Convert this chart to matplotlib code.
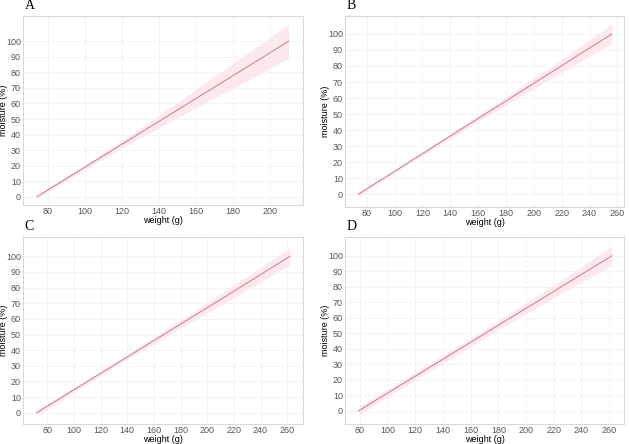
import matplotlib
matplotlib.use('Agg')
import matplotlib.pyplot as plt
import numpy as np

# fitted moisture vs weight, with confidence band half-widths
weight_A = [74, 100, 120, 140, 160, 180, 200, 210]
fit_A = [0, 19.1, 33.8, 48.5, 63.2, 77.9, 92.6, 100]
ci_A = [1, 1.5, 2.5, 4, 6, 8, 10, 11]

weight_B = [74, 100, 140, 180, 220, 256]
fit_B = [0, 14.3, 36.3, 58.2, 80.2, 100]
ci_B = [1.5, 1, 1.5, 2.5, 4, 6]

weight_C = [72, 100, 140, 180, 220, 262]
fit_C = [0, 14.7, 35.7, 56.7, 77.7, 100]
ci_C = [2, 1.5, 1.5, 2.5, 4, 5.5]

weight_D = [79, 100, 140, 180, 220, 262]
fit_D = [0, 11.5, 33.3, 55.2, 77.0, 100]
ci_D = [2.5, 2.5, 2.5, 3, 4, 6]

panel_labels = ['A', 'B', 'C', 'D']
xticks_A = list(range(80, 201, 20))
xticks_BCD = list(range(80, 261, 20))
yticks = list(range(0, 101, 10))

SANS = 'Liberation Sans'


def draw_panel(ax, w, fit, ci, xticks, xlim, ylim, letter):
    w = np.array(w)
    fit = np.array(fit)
    ci = np.array(ci)
    ax.fill_between(w, fit - ci, fit + ci, color='#fde8ee', lw=0, zorder=1)
    ax.plot(w, fit, color='#c06c7c', lw=0.6, zorder=2)
    ax.set_xlim(*xlim)
    ax.set_ylim(*ylim)
    ax.set_xticks(xticks)
    ax.set_yticks(yticks)
    ax.grid(True, color='#f3f3f3', lw=0.6, zorder=0)
    ax.set_axisbelow(True)
    for s in ax.spines.values():
        s.set_color('#d9d9d9')
        s.set_linewidth(0.8)
    ax.tick_params(length=0, pad=1.5, labelsize=6.5, labelcolor='#555555')
    for t in ax.get_xticklabels() + ax.get_yticklabels():
        t.set_fontfamily(SANS)
    ax.set_xlabel('weight (g)', fontsize=6.5, family=SANS, va='top')
    ax.set_ylabel('moisture (%)', fontsize=6.5, family=SANS)
    ax.xaxis.set_label_coords(0.5, -0.058)
    ax.yaxis.set_label_coords(-0.054, 0.5)
    ax.text(0.006, 1.02, letter, transform=ax.transAxes, fontsize=10,
            family='Liberation Serif', ha='left', va='bottom')


fig = plt.figure(figsize=(6.29, 4.44), dpi=100)
axA = fig.add_axes([0.0366, 0.538, 0.445, 0.426])
axB = fig.add_axes([0.5485, 0.534, 0.4436, 0.430])
axC = fig.add_axes([0.0366, 0.045, 0.445, 0.422])
axD = fig.add_axes([0.5485, 0.045, 0.4436, 0.422])

draw_panel(axA, weight_A, fit_A, ci_A, xticks_A, (66.5, 217.8), (-5.4, 116.3), 'A')
draw_panel(axB, weight_B, fit_B, ci_B, xticks_BCD, (64.4, 264.8), (-7.9, 111.2), 'B')
draw_panel(axC, weight_C, fit_C, ci_C, xticks_BCD, (61.8, 271.8), (-7.2, 112.6), 'C')
draw_panel(axD, weight_D, fit_D, ci_D, xticks_BCD, (69.2, 270.8), (-8.5, 112.3), 'D')

fig.savefig('out.png', dpi=100)
